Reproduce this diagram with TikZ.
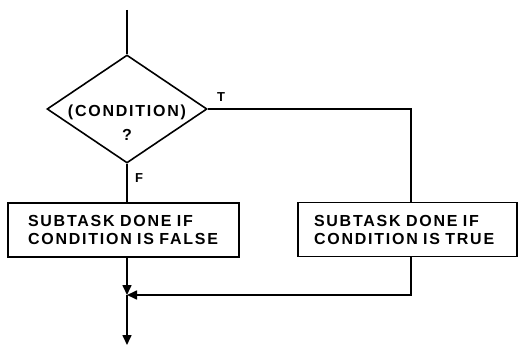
\documentclass[tikz,border=0pt]{standalone}
\usepackage{fontspec}
\setmainfont{Liberation Sans}
\newfontfamily\chartfont[LetterSpace=11,WordSpace=1.8]{Liberation Sans}
\usetikzlibrary{arrows.meta,shapes.geometric}

\begin{document}
\begin{tikzpicture}[
    x=1pt, y=-1pt,
    line width=1.6pt,
    decision/.style={draw, diamond, minimum width=160pt, minimum height=108pt, inner sep=0pt},
    taskbox/.style={draw, rectangle, minimum height=54pt, inner xsep=20pt, align=left, font=\chartfont\bfseries\fontsize{16}{18}\selectfont},
    condtxt/.style={align=center, font=\chartfont\bfseries\fontsize{16}{18}\selectfont},
    arrow/.style={-{Triangle[length=10pt,width=9pt]}},
    lbl/.style={font=\chartfont\bfseries\fontsize{13}{15}\selectfont}
  ]
  \useasboundingbox (0,0) rectangle (519,347);

  % Decision
  \coordinate (entry) at (127,10);
  \node[decision] (cond) at (127,109) {};
  \node[condtxt] (condtext) at (127,123) {(CONDITION)\\[6pt]?};
  \node[lbl] (tlabel) at (221,97) {T};
  \node[lbl] (flabel) at (139,178) {F};

  % Subtasks
  \node[taskbox, text width=191pt] (falsebox) at (123.5,230) {SUBTASK DONE IF\\CONDITION IS FALSE};
  \node[taskbox, text width=187pt, inner xsep=16pt] (truebox) at (407.5,229.5) {SUBTASK DONE IF\\CONDITION IS TRUE};

  % Join points
  \coordinate (tcorner) at (411,109);
  \coordinate (join) at (127,295);
  \coordinate (exit) at (127,345);

  % Arrows
  \draw (entry) -- (cond.north);
  \draw (cond.south) -- (cond.south |- falsebox.north);
  \draw (cond.east) -- (tcorner) -- (tcorner |- truebox.north);
  \draw[arrow] (join |- falsebox.south) -- (join);
  \draw[arrow] (tcorner |- truebox.south) -- (tcorner |- join) -- (join);
  \draw[arrow] (join) -- (exit);

\end{tikzpicture}
\end{document}
